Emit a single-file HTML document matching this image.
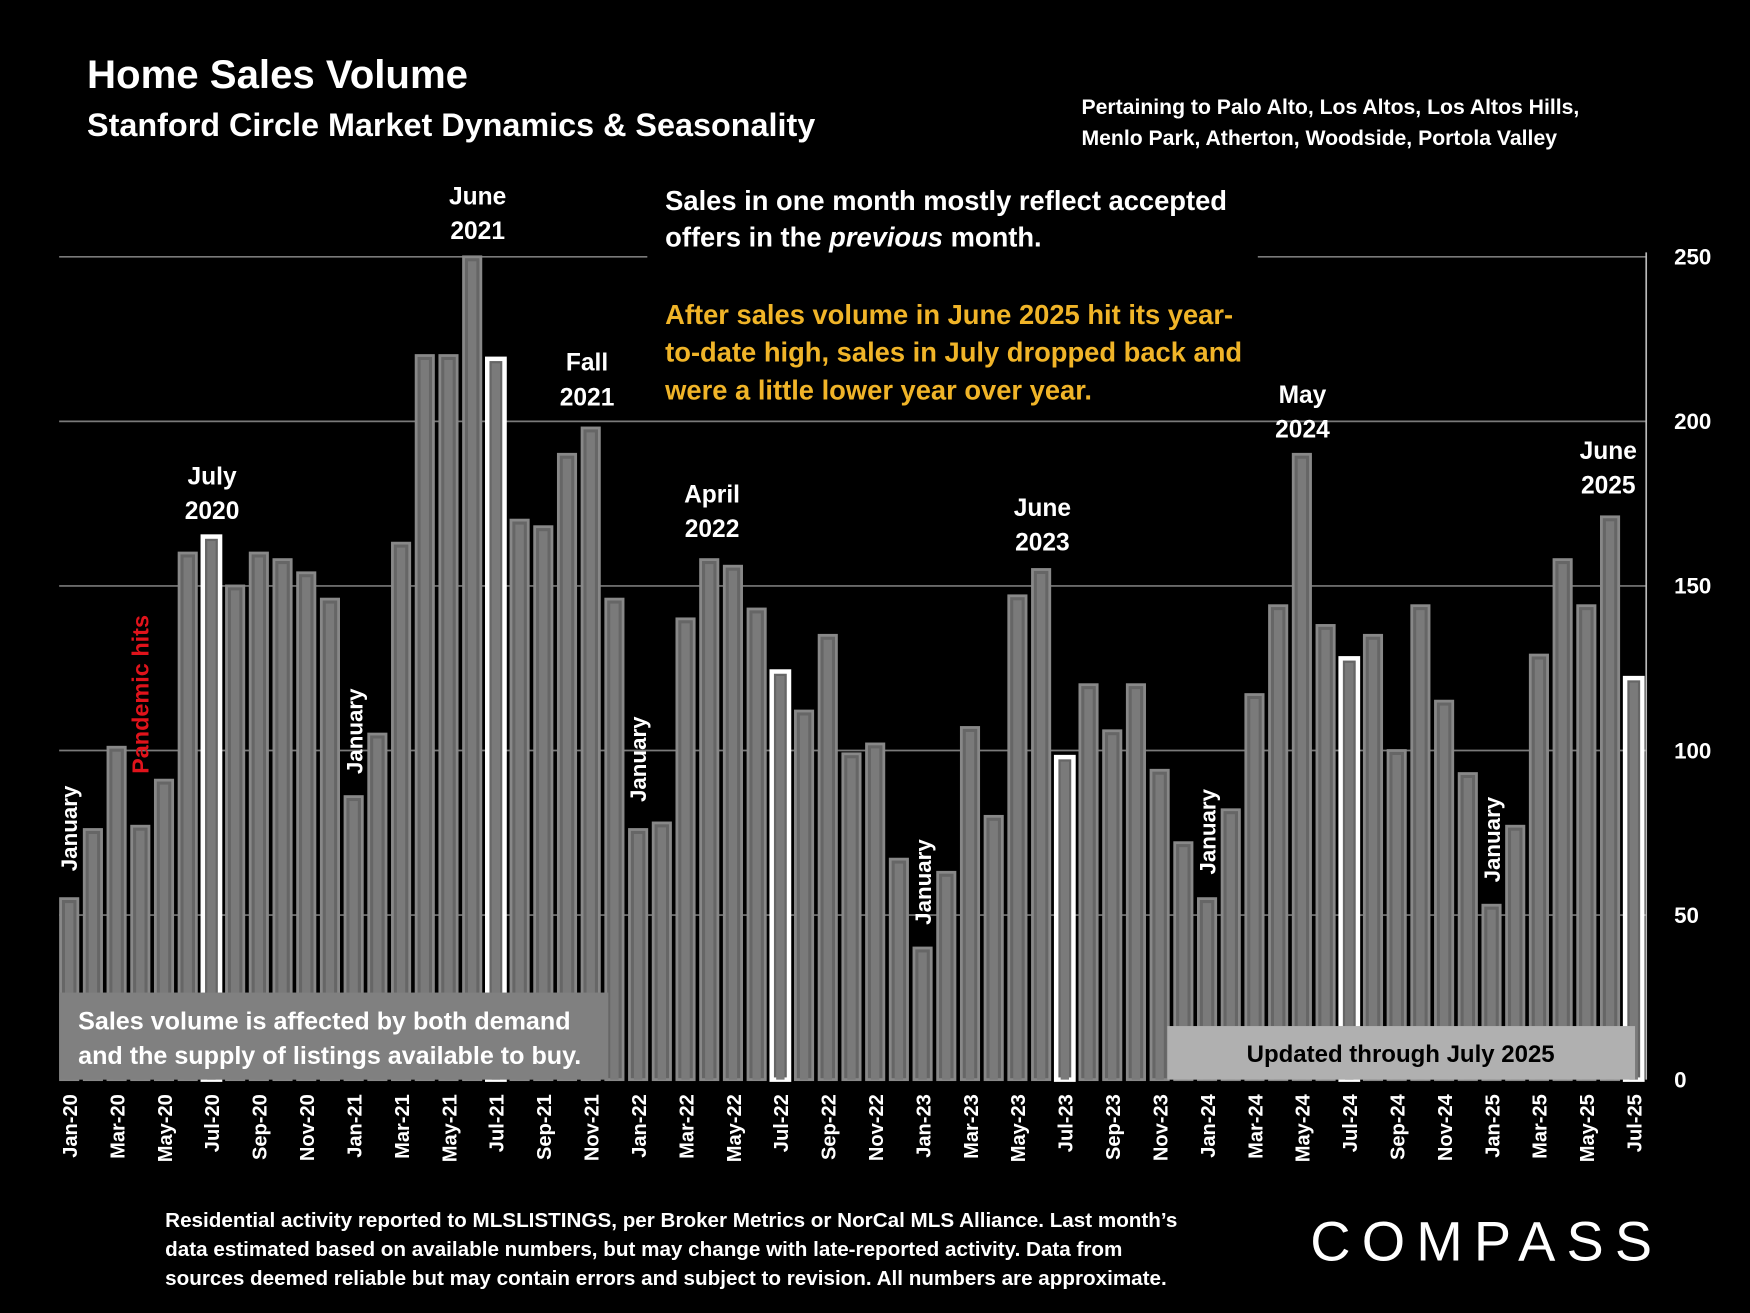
<!DOCTYPE html>
<html><head><meta charset="utf-8">
<style>
html,body{margin:0;padding:0;background:#000;}
svg{display:block;}
text{font-family:"Liberation Sans",sans-serif;font-weight:bold;}
</style></head>
<body>
<svg id="chart" width="1750" height="1313" viewBox="0 0 1568 1176" preserveAspectRatio="none" xmlns="http://www.w3.org/2000/svg">
<rect width="1568" height="1176" fill="#000"/>
<text x="78" y="79" fill="#fff" font-size="36">Home Sales Volume</text>
<text x="78" y="122" fill="#fff" font-size="29">Stanford Circle Market Dynamics &amp; Seasonality</text>
<text x="969" y="102" fill="#fff" font-size="19">Pertaining to Palo Alto, Los Altos, Los Altos Hills,</text>
<text x="969" y="130" fill="#fff" font-size="19">Menlo Park, Atherton, Woodside, Portola Valley</text>
<g id="grid"></g>
<g id="bars"></g>
<g id="overlay"></g>
<text x="596" y="188" fill="#fff" font-size="24.5">Sales in one month mostly reflect accepted</text>
<text x="596" y="221" fill="#fff" font-size="24.5">offers in the <tspan font-style="italic">previous</tspan> month.</text>
<text x="596" y="290" fill="#f0b428" font-size="24.5">After sales volume in June 2025 hit its year-</text>
<text x="596" y="324" fill="#f0b428" font-size="24.5">to-date high, sales in July dropped back and</text>
<text x="596" y="358" fill="#f0b428" font-size="24.5">were a little lower year over year.</text>
<text x="148" y="1099" fill="#fff" font-size="18.5">Residential activity reported to MLSLISTINGS, per Broker Metrics or NorCal MLS Alliance. Last month’s</text>
<text x="148" y="1125" fill="#fff" font-size="18.5">data estimated based on available numbers, but may change with late-reported activity. Data from</text>
<text x="148" y="1151" fill="#fff" font-size="18.5">sources deemed reliable but may contain errors and subject to revision. All numbers are approximate.</text>
<text x="1174" y="1129" fill="#fff" font-size="50" style="font-weight:normal;letter-spacing:10px">COMPASS</text>
</svg>
<script>
const months=["Jan-20","Feb-20","Mar-20","Apr-20","May-20","Jun-20","Jul-20","Aug-20","Sep-20","Oct-20","Nov-20","Dec-20","Jan-21","Feb-21","Mar-21","Apr-21","May-21","Jun-21","Jul-21","Aug-21","Sep-21","Oct-21","Nov-21","Dec-21","Jan-22","Feb-22","Mar-22","Apr-22","May-22","Jun-22","Jul-22","Aug-22","Sep-22","Oct-22","Nov-22","Dec-22","Jan-23","Feb-23","Mar-23","Apr-23","May-23","Jun-23","Jul-23","Aug-23","Sep-23","Oct-23","Nov-23","Dec-23","Jan-24","Feb-24","Mar-24","Apr-24","May-24","Jun-24","Jul-24","Aug-24","Sep-24","Oct-24","Nov-24","Dec-24","Jan-25","Feb-25","Mar-25","Apr-25","May-25","Jun-25","Jul-25"];
const sales=[55,76,101,77,91,160,165,150,160,158,154,146,86,105,163,220,220,250,219,170,168,190,198,146,76,78,140,158,156,143,124,112,135,99,102,67,40,63,107,80,147,155,98,120,106,120,94,72,55,82,117,144,190,138,128,135,100,144,115,93,53,77,129,158,144,171,122];
const highlighted=["Jul-20","Jul-21","Jul-22","Jul-23","Jul-24","Jul-25"];
const yTicks=[0,50,100,150,200,250];

const NS="http://www.w3.org/2000/svg";
const X0=62, STEP=21.24, BW=15.5, Y0=967, YTOP=230, YMAX=250;
const xPos=i=>X0+i*STEP;
const yPos=v=>Y0-(v/YMAX)*(Y0-YTOP);
function mk(tag,attrs,parent){const e=document.createElementNS(NS,tag);for(const k in attrs)e.setAttribute(k,attrs[k]);parent.appendChild(e);return e;}
const grid=document.getElementById('grid'),bars=document.getElementById('bars'),ov=document.getElementById('overlay');

yTicks.forEach(t=>{
  const y=yPos(t);
  if(t>0){
    if(t===250){
      const l1=mk('line',{x1:53,x2:580,y1:y,y2:y,stroke:'#7a7a7a','stroke-width':1.5},grid);
      
      
      const l2=mk('line',{x1:1127,x2:1475,y1:y,y2:y,stroke:'#7a7a7a','stroke-width':1.5},grid);
      
      
    } else {
      const l=mk('line',{x1:53,x2:1475,y1:y,y2:y,stroke:'#7a7a7a','stroke-width':1.5},grid);
      
      
    }
  }
  const tx=mk('text',{x:1500,y:y+7,fill:'#fff','font-size':20},grid);
  tx.textContent=t;
  
  
});
const ax=mk('line',{x1:1475,x2:1475,y1:226,y2:Y0,stroke:'#bbb','stroke-width':1.5},grid);



sales.forEach((v,i)=>{
  const x=xPos(i)-BW/2, y=yPos(v), hl=highlighted.includes(months[i]);
  const r=mk('rect',{x:x,y:y,width:BW,height:Y0-y,fill:'#666',stroke:hl?'#fff':'#888','stroke-width':hl?4:2.5},bars);
  
  
  const inner=mk('rect',{x:x+4,y:y+4,width:BW-8,height:Math.max(0,Y0-y-4),fill:'#7a7a7a'},bars);
  
  
  if(i%2===0){
    const cx=xPos(i)+7;
    const t=mk('text',{x:0,y:0,fill:'#fff','font-size':18,'text-anchor':'end',transform:`translate(${cx},980) rotate(-90)`},ov);
    t.textContent=months[i];
    
    
  }
});

const b1=mk('rect',{x:53,y:889,width:492,height:78,fill:'#808080'},ov);


const bt1=mk('text',{x:70,y:922,fill:'#fff','font-size':22.5},ov);bt1.textContent='Sales volume is affected by both demand';


const bt2=mk('text',{x:70,y:953,fill:'#fff','font-size':22.5},ov);bt2.textContent='and the supply of listings available to buy.';


const b2=mk('rect',{x:1046,y:919,width:419,height:48,fill:'#b0b0b0'},ov);


const bt3=mk('text',{x:1255,y:951,fill:'#000','font-size':21.5,'text-anchor':'middle'},ov);bt3.textContent='Updated through July 2025';



const peaks=[["July","2020",190,426],["June","2021",428,175],["Fall","2021",526,324],["April","2022",638,442],["June","2023",934,454],["May","2024",1167,353],["June","2025",1441,403]];
peaks.forEach(p=>{
  const a=mk('text',{x:p[2],y:p[3]+8,fill:'#fff','font-size':22,'text-anchor':'middle'},ov);a.textContent=p[0];
  
  
  const b=mk('text',{x:p[2],y:p[3]+39,fill:'#fff','font-size':22,'text-anchor':'middle'},ov);b.textContent=p[1];
  
  
});
const jans=[[62,742],[318,655],[572,680],[827,790],[1082,745],[1337,752]];
jans.forEach(j=>{
  const t=mk('text',{x:0,y:0,fill:'#fff','font-size':20,'text-anchor':'middle',transform:`translate(${j[0]+7},${j[1]}) rotate(-90)`},ov);
  t.textContent='January';
  
  
});
const ph=mk('text',{x:0,y:0,fill:'#e0131b','font-size':21,'text-anchor':'middle',transform:'translate(133,622) rotate(-90)'},ov);
ph.textContent='Pandemic hits';


</script>
</body></html>
